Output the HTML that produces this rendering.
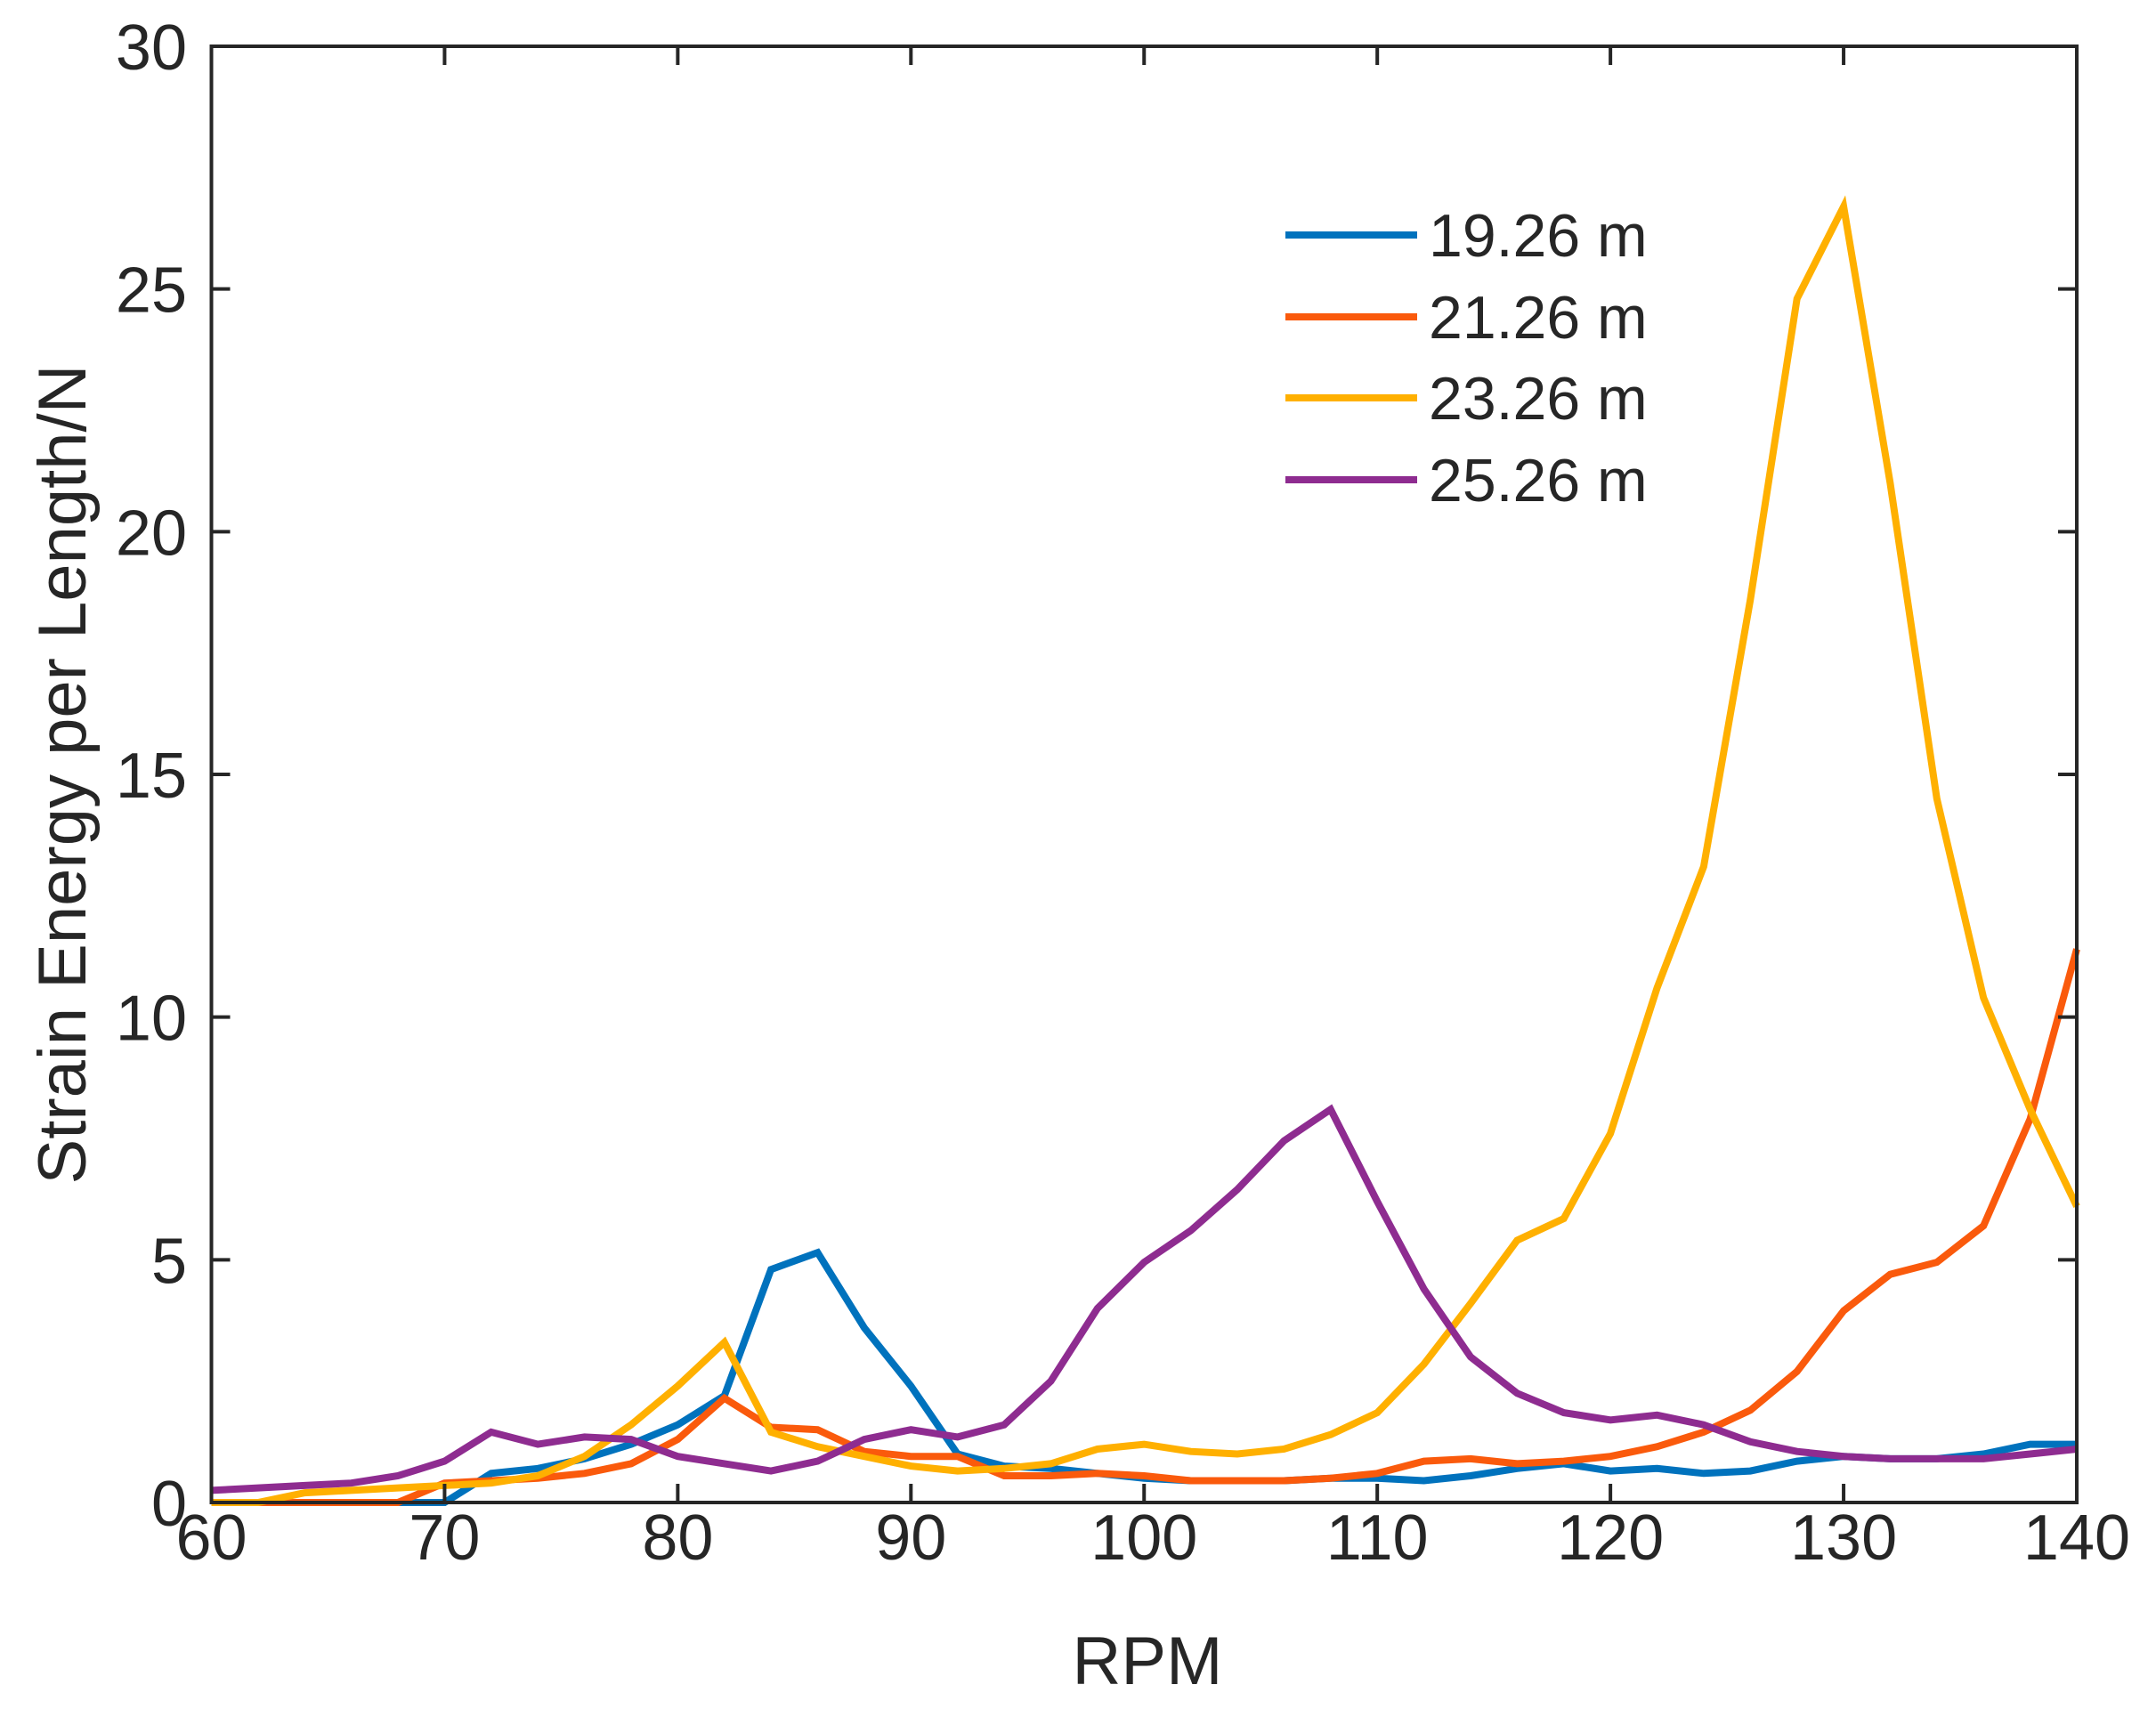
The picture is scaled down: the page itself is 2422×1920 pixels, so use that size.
<!DOCTYPE html>
<html><head><meta charset="utf-8"><style>
html,body{margin:0;padding:0;background:#fff;}
svg{display:block;}
text{font-family:"Liberation Sans",sans-serif;fill:#262626;}
</style></head><body>
<svg id="chart" width="2422" height="1920" viewBox="0 0 2422 1920" xmlns="http://www.w3.org/2000/svg">
<g id="lines"></g>
<g id="axes"></g>
<g id="legend"></g>
</svg>
<script>
const rpm = [60,62,64,66,68,70,72,74,76,78,80,82,84,86,88,90,92,94,96,98,100,102,104,106,108,110,112,114,116,118,120,122,124,126,128,130,132,134,136,138,140];
const s19 = [0,0,0,0,0,0,0.6,0.7,0.9,1.2,1.6,2.2,4.8,5.15,3.6,2.4,1.0,0.75,0.7,0.6,0.5,0.45,0.45,0.45,0.5,0.5,0.45,0.55,0.7,0.8,0.65,0.7,0.6,0.65,0.85,0.95,0.9,0.9,1.0,1.2,1.2];
const s21 = [0,0,0,0,0,0.4,0.45,0.5,0.6,0.8,1.3,2.15,1.55,1.5,1.05,0.95,0.95,0.55,0.55,0.6,0.55,0.45,0.45,0.45,0.5,0.6,0.85,0.9,0.8,0.85,0.95,1.15,1.45,1.9,2.7,3.95,4.7,4.95,5.7,7.9,11.4];
const s23 = [0,0,0.2,0.25,0.3,0.35,0.4,0.55,0.95,1.6,2.4,3.3,1.45,1.15,0.95,0.75,0.65,0.7,0.8,1.1,1.2,1.05,1.0,1.1,1.4,1.85,2.85,4.1,5.4,5.85,7.6,10.6,13.1,18.6,24.8,26.7,21.0,14.5,10.4,8.1,6.1];
const s25 = [0.25,0.3,0.35,0.4,0.55,0.85,1.45,1.2,1.35,1.3,0.95,0.8,0.65,0.85,1.3,1.5,1.35,1.6,2.5,4.0,4.95,5.6,6.45,7.45,8.1,6.2,4.4,3.0,2.25,1.85,1.7,1.8,1.6,1.25,1.05,0.95,0.9,0.9,0.9,1.0,1.1];
const seriesNames = ["19.26 m","21.26 m","23.26 m","25.26 m"];
const xTicks = [60,70,80,90,100,110,120,130,140];
const yTicks = [0,5,10,15,20,25,30];

const NS="http://www.w3.org/2000/svg";
const L=237.5,R=2333,T=52,B=1688;
const xMin=60,xMax=140,yMin=0,yMax=30;
function xs(v){return L+(v-xMin)/(xMax-xMin)*(R-L);}
function ys(v){return B-(v-yMin)/(yMax-yMin)*(B-T);}
function mk(tag,attrs,parent){const e=document.createElementNS(NS,tag);for(const k in attrs)e.setAttribute(k,attrs[k]);parent.appendChild(e);return e;}

const colors=["#0072BD","#FA5A0C","#FFB000","#8E2C90"];
const data=[s19,s21,s23,s25];
const gl=document.getElementById('lines');
data.forEach((s,i)=>{
  const d=s.map((v,j)=>(j?'L':'M')+xs(rpm[j]).toFixed(1)+' '+ys(v).toFixed(1)).join(' ');
  const p=mk('path',{d:d,fill:'none',stroke:colors[i],'stroke-width':8,'stroke-linejoin':'miter','stroke-miterlimit':4},gl);
  
  
});

const ga=document.getElementById('axes');
const box=mk('rect',{x:L,y:T,width:R-L,height:B-T,fill:'none',stroke:'#262626','stroke-width':4},ga);


xTicks.forEach(v=>{
  const x=xs(v);
  mk('line',{x1:x,y1:B,x2:x,y2:B-21,stroke:'#262626','stroke-width':4},ga);
  mk('line',{x1:x,y1:T,x2:x,y2:T+21,stroke:'#262626','stroke-width':4},ga);
  const t=mk('text',{x:x,y:1752,'font-size':72,'text-anchor':'middle'},ga);
  t.textContent=v;
  
  
});
yTicks.forEach(v=>{
  const y=ys(v);
  mk('line',{x1:L,y1:y,x2:L+21,y2:y,stroke:'#262626','stroke-width':4},ga);
  mk('line',{x1:R,y1:y,x2:R-21,y2:y,stroke:'#262626','stroke-width':4},ga);
  const t=mk('text',{x:210,y:y+26,'font-size':72,'text-anchor':'end'},ga);
  t.textContent=v;
  
  
});
const xt=mk('text',{x:1289,y:1892,'font-size':76,'text-anchor':'middle'},ga);
xt.textContent='RPM';


const yt=mk('text',{x:0,y:0,'font-size':76,'text-anchor':'middle',transform:'translate(96,870) rotate(-90)'},ga);
yt.textContent='Strain Energy per Length/N';



const lg=document.getElementById('legend');
const rows=[264,356,447,539];
seriesNames.forEach((n,i)=>{
  const g=mk('g',{},lg);
  
  
  mk('line',{x1:1444,y1:rows[i],x2:1592,y2:rows[i],stroke:colors[i],'stroke-width':8},g);
  const t=mk('text',{x:1605,y:rows[i]+24,'font-size':68},g);
  t.textContent=n;
});
</script>
</body></html>
